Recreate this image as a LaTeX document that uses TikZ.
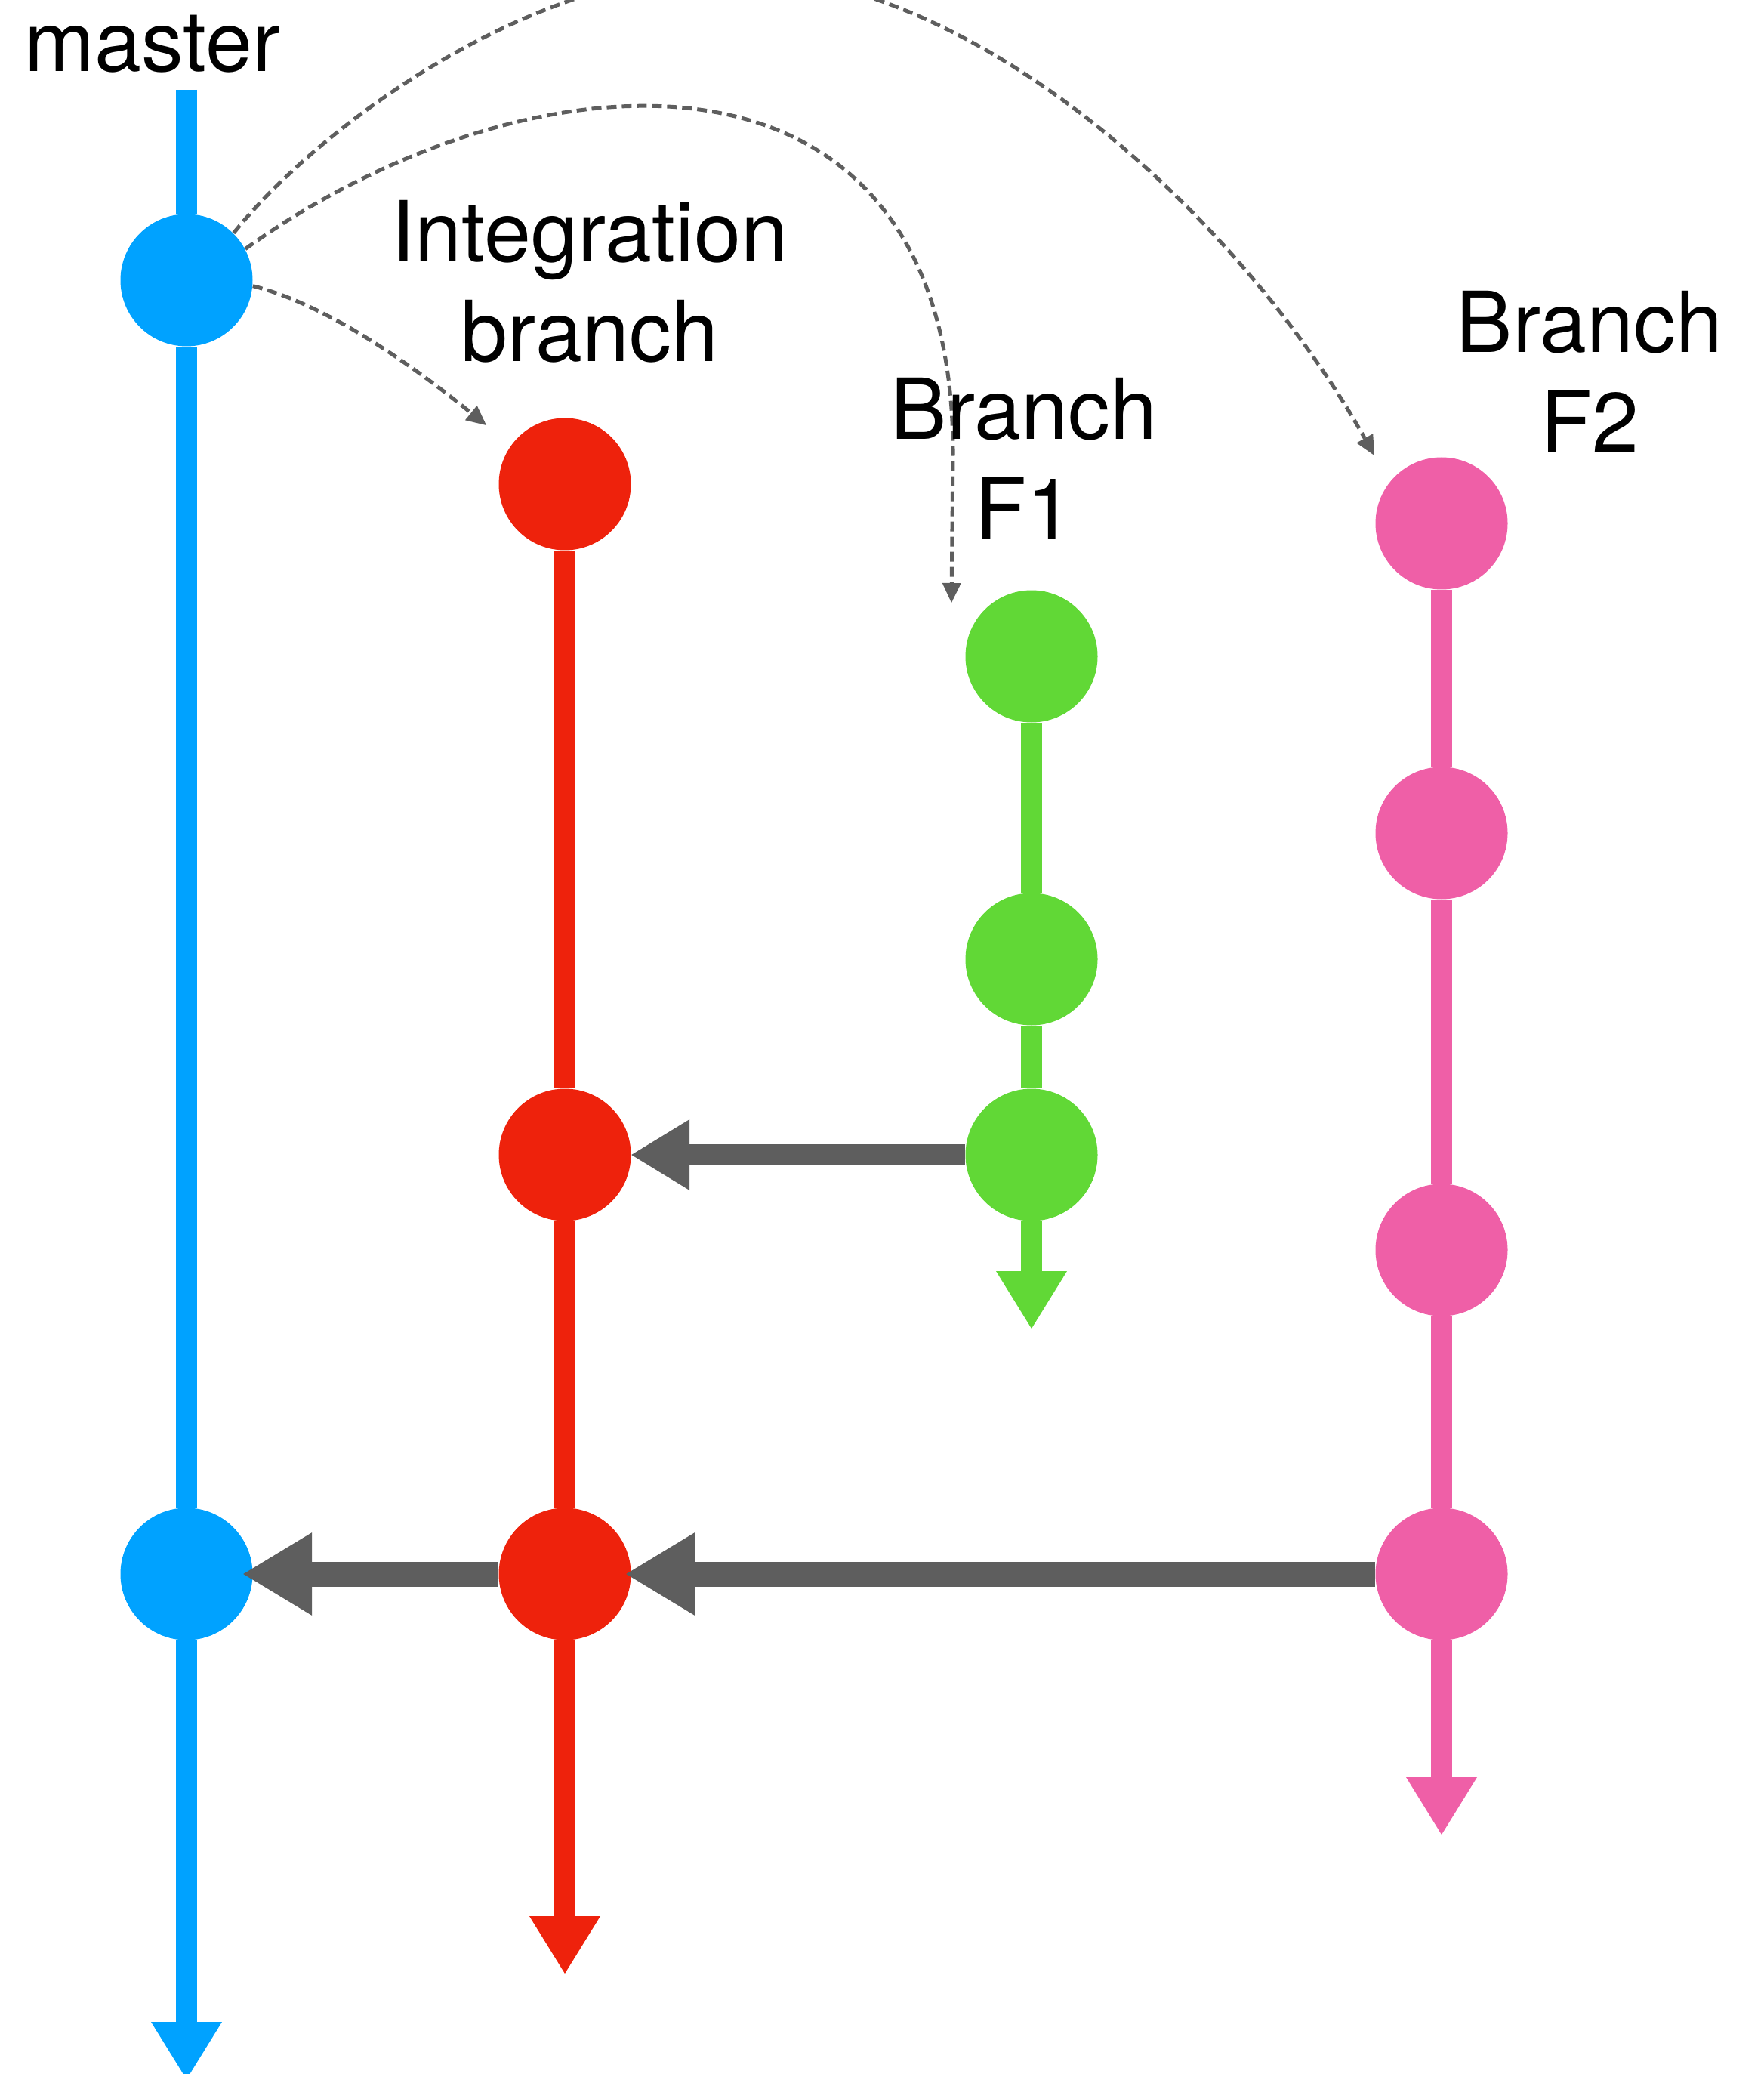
\documentclass[tikz,border=0pt]{standalone}
\usepackage{fontspec}
\setmainfont{TeX Gyre Heros}
\usetikzlibrary{arrows.meta}

\definecolor{mastercol}{HTML}{00A2FF}
\definecolor{intcol}{HTML}{EE220C}
\definecolor{fonecol}{HTML}{61D836}
\definecolor{ftwocol}{HTML}{EF5FA7}
\definecolor{mergecol}{HTML}{5E5E5E}

\begin{document}
\begin{tikzpicture}[
    commit/.style={circle, fill=#1, minimum size=1.75cm, inner sep=0pt},
    lane/.style={draw=#1, line width=0.28cm, -{Triangle[length=0.76cm, width=0.94cm, line width=0pt]}},
    merge/.style={draw=mergecol, line width=0.28cm, -{Triangle[length=0.77cm, width=0.94cm, line width=0pt]}},
    bigmerge/.style={draw=mergecol, line width=0.33cm, -{Triangle[length=0.91cm, width=1.1cm, line width=0pt]}},
    fork/.style={draw=mergecol, line width=0.05cm, dash pattern=on 0.13cm off 0.07cm, -{Triangle[length=0.26cm, width=0.25cm, line width=0pt]}},
    title/.style={font=\fontsize{31.7}{37.8}\selectfont, align=center, anchor=base, inner sep=0pt}]
    \useasboundingbox (0,0) rectangle (23.36,-27.46);

    % commits
    \node[commit=mastercol] (m1) at (2.47,-3.71) {};
    \node[commit=mastercol] (m2) at (2.47,-20.84) {};
    \node[commit=intcol] (i1) at (7.48,-6.41) {};
    \node[commit=intcol] (i2) at (7.48,-15.29) {};
    \node[commit=intcol] (i3) at (7.48,-20.84) {};
    \node[commit=fonecol] (f1) at (13.66,-8.69) {};
    \node[commit=fonecol] (f2) at (13.66,-12.70) {};
    \node[commit=fonecol] (f3) at (13.66,-15.29) {};
    \node[commit=ftwocol] (p1) at (19.09,-6.93) {};
    \node[commit=ftwocol] (p2) at (19.09,-11.03) {};
    \node[commit=ftwocol] (p3) at (19.09,-16.55) {};
    \node[commit=ftwocol] (p4) at (19.09,-20.84) {};

    \coordinate (mtop) at (2.47,-1.19);
    \coordinate (mend) at (2.47,-27.53);
    \coordinate (iend) at (7.48,-26.13);
    \coordinate (fend) at (13.66,-17.59);
    \coordinate (pend) at (19.09,-24.29);

    % branch lines
    \draw[lane=mastercol] (mtop) -- (m1) -- (m2) -- (mend);
    \draw[lane=intcol] (i1) -- (i2) -- (i3) -- (iend);
    \draw[lane=fonecol] (f1) -- (f2) -- (f3) -- (fend);
    \draw[lane=ftwocol] (p1) -- (p2) -- (p3) -- (p4) -- (pend);

    % merges
    \draw[merge] (f3) -- (i2);
    \draw[bigmerge, shorten >=-0.07cm] (p4) -- (i3);
    \draw[bigmerge, shorten >=-0.13cm] (i3) -- (m2);

    % forks off master
    \coordinate (iin) at (6.44,-5.63);
    \coordinate (fin) at (12.60,-7.98);
    \coordinate (pin) at (18.20,-6.03);
    \draw[fork] (m1.-5) .. controls (4.40,-4.05) and (5.60,-4.95) .. (iin);
    \draw[fork] (m1.28) .. controls (7.00,-0.60) and (12.62,-0.20) .. (12.62,-6.00) -- (fin);
    \draw[fork] (m1.45) .. controls (4.20,-1.70) and (7.00,0.37) .. (9.60,0.37)
        .. controls (13.00,0.37) and (16.50,-3.00) .. (pin);

    % branch names (base sits on the last line)
    \node[title] (tmaster) at (2.02,-0.95) {master};
    \node[title] (tint) at (7.81,-4.79) {Integration\\branch};
    \node[title] (tfone) at (13.56,-7.14) {Branch\\F1};
    \node[title] (tftwo) at (21.05,-5.99) {Branch\\F2};
\end{tikzpicture}
\end{document}
